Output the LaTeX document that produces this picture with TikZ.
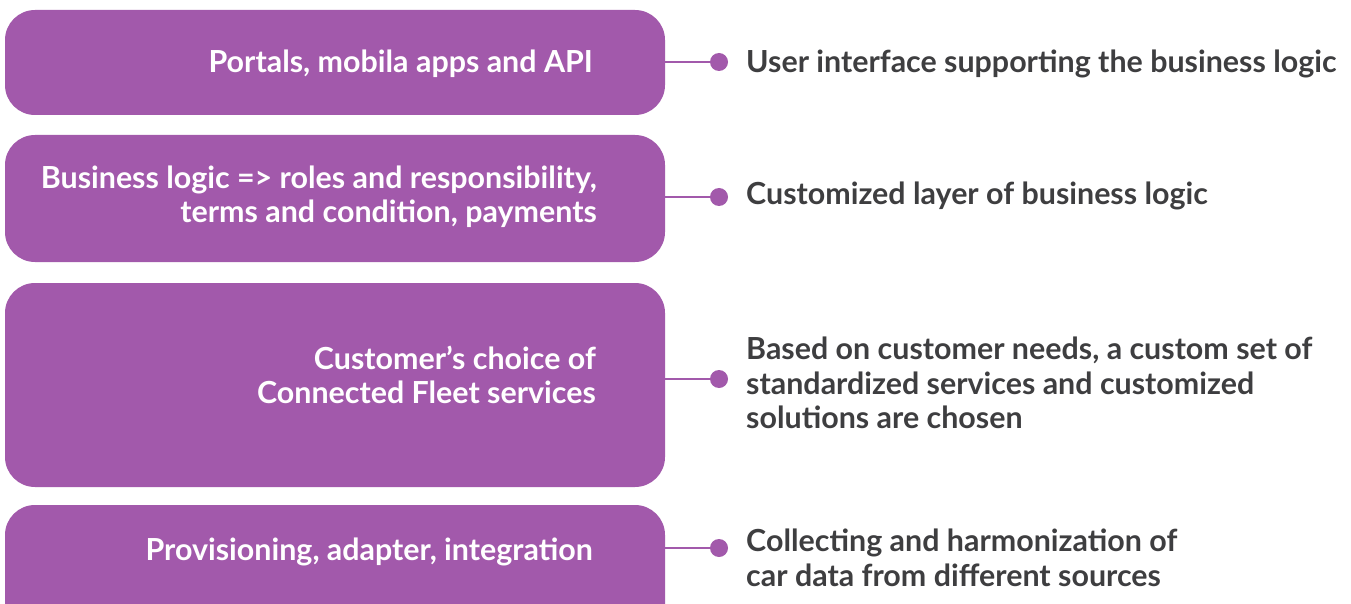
\documentclass[tikz,border=0pt]{standalone}
\usepackage{fontspec}
\setmainfont{Lato}[UprightFont=* Bold]
\definecolor{layer}{HTML}{A259AB}
\definecolor{note}{HTML}{3E3E40}
\begin{document}
\begin{tikzpicture}[x=1pt,y=-1pt,
  layerbox/.style={fill=layer,draw=none,rounded corners=30pt},
  layertext/.style={text=white,align=right,anchor=east,inner sep=0pt,font=\fontsize{30.4}{34.5}\selectfont},
  notetext/.style={text=note,align=left,anchor=west,inner sep=0pt,font=\fontsize{30.4}{34.5}\selectfont},
  link/.style={draw=layer,line width=2pt},
  knob/.style={circle,fill=layer,minimum size=18pt,inner sep=0pt}]
\useasboundingbox (0,0) rectangle (1351,604);
\clip (0,0) rectangle (1351,604);

% layer boxes
\path[layerbox] (5,10) rectangle (665,115);
\path[layerbox] (5,135) rectangle (665,262);
\path[layerbox] (5,283) rectangle (665,487);
\path[layerbox] (5,505) rectangle (665,640);

% box captions
\node[layertext] (t1) at (593,64) {Portals, mobila apps and API};
\node[layertext] (t2) at (597,197) {Business logic => roles and responsibility,\\terms and condition, payments};
\node[layertext] (t3) at (596,375) {Customer’s choice of\\Connected Fleet services};
\node[layertext] (t4) at (593,552) {Provisioning, adapter, integration};

% connector ends
\coordinate (e1) at (665,62);
\coordinate (e2) at (665,197);
\coordinate (e3) at (665,379);
\coordinate (e4) at (665,548);
\node[knob] (k1) at (719,62) {};
\node[knob] (k2) at (719,197) {};
\node[knob] (k3) at (719,379) {};
\node[knob] (k4) at (719,548) {};
\draw[link] (e1) -- (k1.center);
\draw[link] (e2) -- (k2.center);
\draw[link] (e3) -- (k3.center);
\draw[link] (e4) -- (k4.center);

% descriptions
\node[notetext] (d1) at (746,64) {User interface supporting the business logic};
\node[notetext] (d2) at (746,196) {Customized layer of business logic};
\node[notetext] (d3) at (746,383) {Based on customer needs, a custom set of\\standardized services and customized\\solutions are chosen};
\node[notetext] (d4) at (746,558) {Collecting and harmonization of\\car data from different sources};
\end{tikzpicture}
\end{document}
